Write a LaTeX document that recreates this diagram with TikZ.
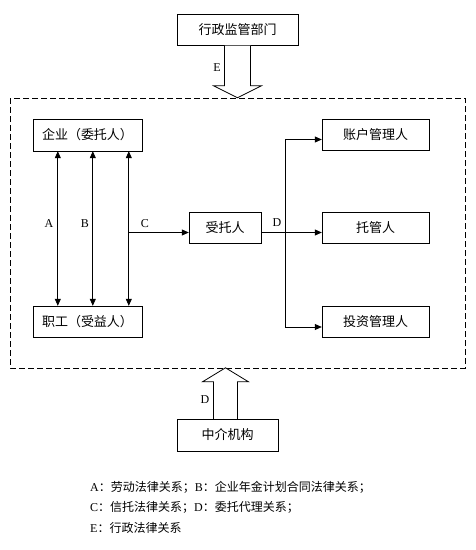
\documentclass[tikz,border=0pt]{standalone}
\usepackage{fontspec}
\setmainfont{Liberation Serif}
\newfontfamily\cjk{Noto Sans CJK SC}
\usetikzlibrary{arrows.meta,calc}

\tikzset{
	box/.style={draw,inner sep=0pt,minimum height=31pt,font=\cjk\fontsize{13}{15}\selectfont},
	arr/.style={-{Triangle[length=7pt,width=6pt]},line width=.8pt},
	dblarr/.style={{Triangle[length=7pt,width=6pt]}-{Triangle[length=7pt,width=6pt]},line width=.8pt},
	lbl/.style={font=\fontsize{12}{14}\selectfont},
	legend/.style={anchor=west,inner sep=0pt,font=\fontsize{12}{14}\selectfont},
	blockarr/.style={draw,line width=.8pt,fill=white}
}

\begin{document}
\begin{tikzpicture}[x=1pt,y=-1pt]
	%    \draw[step=50pt,gray,very thin] (0,0) grid (476,550);
	\useasboundingbox (0,0) rectangle (476,550);
	
	\draw[line width=.7pt,dash pattern=on 6pt off 3pt] (10,98) rectangle (465,368);
	
	\node[box,minimum width=121pt] (gov) at (237.5,30) {行政监管部门};
	\node[box,minimum width=109pt,minimum height=32pt] (ent) at (87.5,135) {企业（委托人）};
	\node[box,minimum width=109pt] (emp) at (87.5,321.5) {职工（受益人）};
	\node[box,minimum width=72pt] (tr) at (225,227.5) {受托人};
	\node[box,minimum width=107pt] (acct) at (375.5,134.5) {账户管理人};
	\node[box,minimum width=107pt] (cust) at (375.5,227.5) {托管人};
	\node[box,minimum width=107pt] (inv) at (375.5,322) {投资管理人};
	\node[box,minimum width=101pt,minimum height=32pt] (agency) at (227.5,435) {中介机构};
	
	\draw[blockarr] ($(gov.south)+(-13,0)$) -- ++(0,40) -- ++(-11,0) -- ($(gov.south)+(0,52)$)
		-- ($(gov.south)+(24,40)$) -- ++(-11,0) -- ($(gov.south)+(13,0)$);
	\draw[blockarr] ($(agency.north)+(-14,0)$) -- ++(0,-37) -- ++(-11,0) -- ($(agency.north)+(-2,-51)$)
		-- ($(agency.north)+(21,-37)$) -- ++(-11,0) -- ($(agency.north)+(10,0)$);
	\node[lbl] (e) at (217,68) {E};
	\node[lbl] (dd) at (205,400) {D};
	
	\draw[dblarr] ([xshift=25pt]ent.south west) -- ([xshift=25pt]emp.north west);
	\draw[dblarr] ([xshift=60pt]ent.south west) -- ([xshift=60pt]emp.north west);
	\draw[dblarr] ([xshift=96pt]ent.south west) -- ([xshift=96pt]emp.north west);
	\node[lbl] (a) at (49,224) {A};
	\node[lbl] (b) at (85,224) {B};
	\node[lbl] (c) at (145,224) {C};
	
	\coordinate (cl) at ([xshift=96pt]ent.south west);
	\coordinate (tin) at ([yshift=-5pt]tr.west);
	\draw[arr] (cl |- tin) -- (tin);
	
	\coordinate (tout) at ([yshift=-5pt]tr.east);
	\coordinate (br) at ([xshift=24pt]tout);
	\draw[line width=.8pt] (tout) -- (br);
	\node[lbl] (d) at (277,223) {D};
	\foreach \n in {acct,cust,inv}
		\coordinate (\n-in) at ([yshift=-5pt]\n.west);
	\draw[line width=.8pt] (br |- acct-in) -- (br |- inv-in);
	\foreach \n in {acct,cust,inv}
		\draw[arr] (br |- \n-in) -- (\n-in);
	
	\node[legend] (l1) at (90,487) {A{\cjk：劳动法律关系；}B{\cjk：企业年金计划合同法律关系；}};
	\node[legend] (l2) at (90,507) {C{\cjk：信托法律关系；}D{\cjk：委托代理关系；}};
	\node[legend] (l3) at (90,528) {E{\cjk：行政法律关系}};
	
\end{tikzpicture}
\end{document}
